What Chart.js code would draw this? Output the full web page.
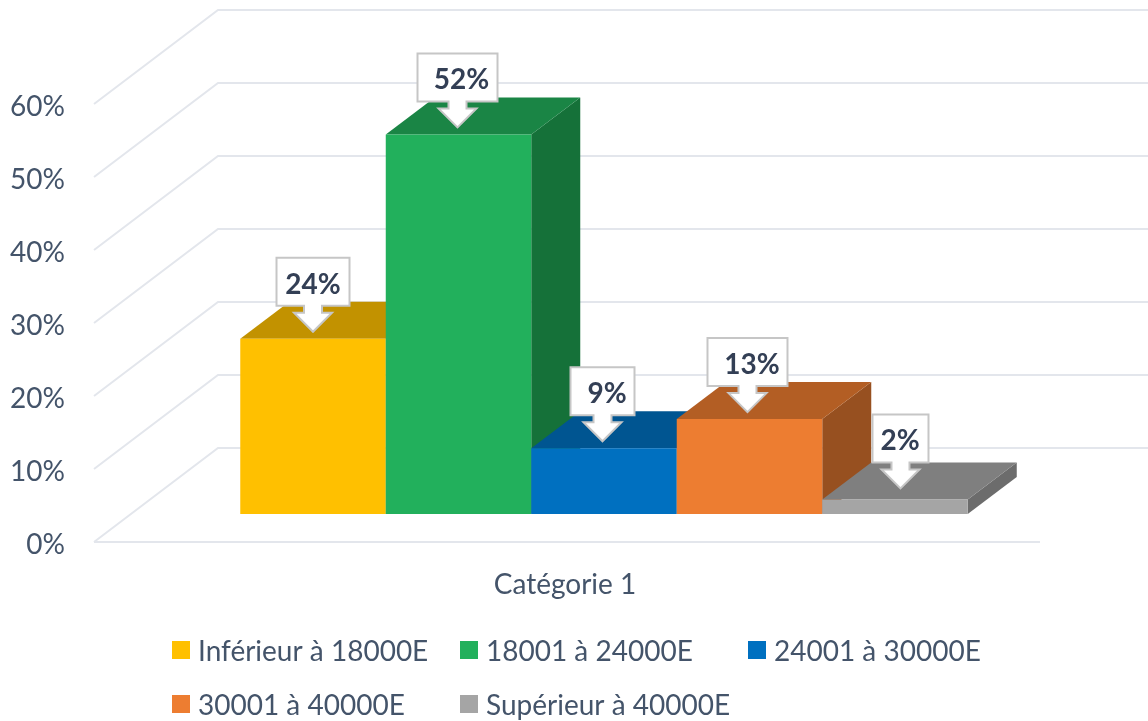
<!DOCTYPE html>
<html lang="fr">
<head>
<meta charset="utf-8">
<title>Catégorie 1</title>
<script src="https://cdn.jsdelivr.net/npm/chart.js@4"></script>
<style>
  html, body { margin: 0; background: #fff; }
  canvas { display: block; }
</style>
</head>
<body>
<canvas id="barChart" width="1148" height="721"></canvas>
<script>
// ---------------- data ----------------
const categories = ["Catégorie 1"];
const seriesLabels = ["Inférieur à 18000E", "18001 à 24000E", "24001 à 30000E", "30001 à 40000E", "Supérieur à 40000E"];
const seriesValues = [24, 52, 9, 13, 2];
const yTicks = { min: 0, max: 60, step: 10 };

// ---------------- styles ----------------
const frontColors = ["#ffc000", "#22b05c", "#0070c0", "#ed7d31", "#a5a5a5"];
const topColors = ["#c29200", "#1a8545", "#005591", "#b35e24", "#7f7f7f"];
const sideColors = ["#997300", "#157139", "#00487c", "#975020", "#6c6c6c"];
const TEXT = "#44546a";
const LABEL_TEXT = "#333f55";
const GRID = "#e3e6ec";
const CALLOUT_EDGE = "#c6c6c6";
const FONT = "Lato";

// depth of the back wall and of the bars, and shift of the bars onto the floor
const WALL = { x: 124, y: -94 };
const DEPTH = { x: 49, y: -37 };
const FLOOR = { x: 37, y: -28 };

// callout boxes are not the same size or quite centred in the original
const calloutWidth = [73, 80, 64, 80, 56];
const calloutShift = [[0, 0], [-1, 0], [-1.5, 0], [-2, 0], [5.5, -4]];
const labelShift = [0, 3, 3, 2.5, 5];

const legendColumns = [172, 460, 748];
const legendRows = [650, 704];

function fillPoly(ctx, color, pts) {
  ctx.fillStyle = color;
  ctx.beginPath();
  pts.forEach((p, i) => (i ? ctx.lineTo(p[0], p[1]) : ctx.moveTo(p[0], p[1])));
  ctx.closePath();
  ctx.fill();
}

const wallPlugin = {
  id: "wall",
  beforeDatasetsDraw(chart) {
    const { ctx, chartArea } = chart;
    const y = chart.scales.y;
    ctx.save();
    ctx.strokeStyle = GRID;
    ctx.lineWidth = 2;
    y.ticks.forEach((t) => {
      const py = y.getPixelForValue(t.value);
      ctx.beginPath();
      ctx.moveTo(chartArea.left, py);
      ctx.lineTo(chartArea.left + WALL.x, py + WALL.y);
      ctx.lineTo(chart.width, py + WALL.y);
      ctx.stroke();
    });
    // floor front edge
    ctx.beginPath();
    ctx.moveTo(chartArea.left, chartArea.bottom);
    ctx.lineTo(chartArea.right, chartArea.bottom);
    ctx.stroke();
    ctx.restore();

    // bars stand in the middle of the floor, and paint left to right so
    // each front face covers the side face of the bar before it
    ctx.save();
    ctx.translate(FLOOR.x, FLOOR.y);
    seriesValues.forEach((v, i) => {
      const meta = chart.getDatasetMeta(i);
      const bar = meta.data[0];
      const l = bar.x - bar.width / 2;
      const r = bar.x + bar.width / 2;
      const dx = DEPTH.x;
      const dy = DEPTH.y;
      fillPoly(ctx, sideColors[i], [[r, bar.y], [r + dx, bar.y + dy], [r + dx, bar.base + dy], [r, bar.base]]);
      fillPoly(ctx, topColors[i], [[l, bar.y], [l + dx, bar.y + dy], [r + dx, bar.y + dy], [r, bar.y]]);
      meta.controller.draw();
    });
    ctx.restore();

    seriesValues.forEach((v, i) => {
      const bar = chart.getDatasetMeta(i).data[0];
      drawCallout(ctx, bar.x + FLOOR.x, bar.y + FLOOR.y, v + "%", i);
    });
    return false; // datasets already painted
  },
  afterDraw(chart) {
    const { ctx } = chart;
    ctx.save();
    ctx.font = "28px " + FONT;
    ctx.textBaseline = "middle";
    ctx.textAlign = "left";
    seriesLabels.forEach((label, i) => {
      const x = legendColumns[i % 3];
      const y = legendRows[Math.floor(i / 3)];
      ctx.fillStyle = frontColors[i];
      ctx.fillRect(x, y - 9, 18, 18);
      ctx.fillStyle = TEXT;
      ctx.fillText(label, x + 26, y + 2);
    });
    ctx.restore();
  },
};

function drawCallout(ctx, barX, barTop, text, i) {
  const cx = barX + calloutShift[i][0];
  const top = barTop + calloutShift[i][1];
  const half = calloutWidth[i] / 2;
  const boxTop = top - 81;
  const boxBottom = top - 33;
  ctx.save();
  ctx.beginPath();
  ctx.moveTo(cx - half, boxTop);
  ctx.lineTo(cx + half, boxTop);
  ctx.lineTo(cx + half, boxBottom);
  ctx.lineTo(cx + 9, boxBottom);
  ctx.lineTo(cx + 9, top - 26);
  ctx.lineTo(cx + 19, top - 26);
  ctx.lineTo(cx, top - 7);
  ctx.lineTo(cx - 19, top - 26);
  ctx.lineTo(cx - 9, top - 26);
  ctx.lineTo(cx - 9, boxBottom);
  ctx.lineTo(cx - half, boxBottom);
  ctx.closePath();
  ctx.fillStyle = "#fff";
  ctx.fill();
  ctx.strokeStyle = CALLOUT_EDGE;
  ctx.lineWidth = 2;
  ctx.stroke();
  ctx.fillStyle = LABEL_TEXT;
  ctx.font = "bold 28px " + FONT;
  ctx.textAlign = "center";
  ctx.textBaseline = "middle";
  ctx.fillText(text, barX + labelShift[i], boxTop + 27);
  ctx.restore();
}

new Chart(document.getElementById("barChart").getContext("2d"), {
  type: "bar",
  data: {
    labels: categories,
    datasets: seriesLabels.map((label, i) => ({
      label,
      data: [seriesValues[i]],
      backgroundColor: frontColors[i],
      borderWidth: 0,
    })),
  },
  options: {
    responsive: false,
    animation: false,
    categoryPercentage: 0.769,
    barPercentage: 1,
    layout: { padding: { left: 0, top: 104, right: 108, bottom: 0 } },
    plugins: { legend: { display: false }, tooltip: { enabled: false } },
    scales: {
      x: {
        grid: { display: false, drawTicks: false },
        border: { display: false },
        ticks: { color: TEXT, font: { family: FONT, size: 28 }, padding: 26, labelOffset: -2 },
        afterFit: (s) => { s.height = 179; },
      },
      y: {
        min: yTicks.min,
        max: yTicks.max,
        grid: { display: false, drawTicks: false },
        border: { display: false },
        ticks: {
          stepSize: yTicks.step,
          color: TEXT,
          font: { family: FONT, size: 28 },
          padding: 29,
          labelOffset: 3,
          callback: (v) => v + "%",
        },
        afterFit: (s) => { s.width = 94; },
      },
    },
  },
  plugins: [wallPlugin],
});
</script>
</body>
</html>
